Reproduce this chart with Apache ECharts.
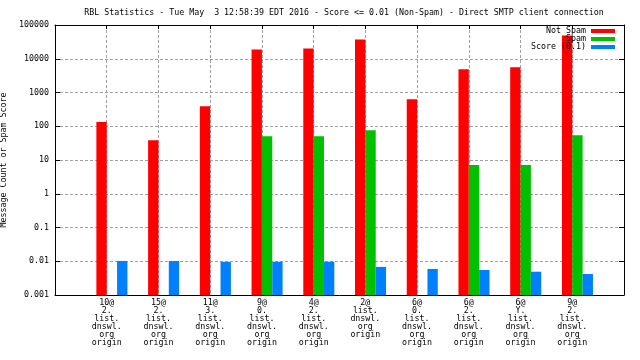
<!DOCTYPE html>
<html><head><meta charset="utf-8">
<script src="https://cdn.jsdelivr.net/npm/echarts@6/dist/echarts.min.js"></script>
<style>html,body{margin:0;padding:0;background:#fff}#c{width:640px;height:360px}</style>
</head><body><div id="c"></div>
<script>
const titleText = 'RBL Statistics - Tue May  3 12:58:39 EDT 2016 - Score <= 0.01 (Non-Spam) - Direct SMTP client connection';
const categories = [
  '10@\n2.\nlist.\ndnswl.\norg\norigin',
  '15@\n2.\nlist.\ndnswl.\norg\norigin',
  '11@\n3.\nlist.\ndnswl.\norg\norigin',
  '9@\n0.\nlist.\ndnswl.\norg\norigin',
  '4@\n2.\nlist.\ndnswl.\norg\norigin',
  '2@\nlist.\ndnswl.\norg\norigin',
  '6@\n0.\nlist.\ndnswl.\norg\norigin',
  '6@\n2.\nlist.\ndnswl.\norg\norigin',
  '6@\nY.\nlist.\ndnswl.\norg\norigin',
  '9@\n2.\nlist.\ndnswl.\norg\norigin'
];
const seriesNames = ['Not Spam', 'Spam', 'Score (0.1)'];
const notSpam = [133, 38.5, 394, 18900, 20200, 37200, 633, 4890, 5610, 48900];
const spam = [0, 0, 0, 50.6, 50.6, 76, 0, 7.1, 7.1, 54];
const score = [0.0102, 0.0102, 0.0096, 0.0097, 0.0097, 0.0068, 0.0059, 0.0055, 0.0049, 0.0042];
const yTickLabels = ['0.001', '0.01', '0.1', '1', '10', '100', '1000', '10000', '100000'];
const yMin = 0.001, yMax = 100000;

const FONT = 'DejaVu Sans Mono';
const FS = 8.3;
const axisCats = [''].concat(categories, ['']);

function makeSeries(name, values, color, leftOffset) {
  return {
    type: 'custom', name: name,
    itemStyle: { color: color },
    z: 3,
    data: values.map((v, i) => [i + 1, v]).filter(d => d[1] > 0),
    encode: { x: 0, y: 1 },
    renderItem: function (params, api) {
      const idx = api.value(0), v = api.value(1);
      const p = api.coord([idx, v]);
      const p2 = api.coord([idx + 1, v]);
      const base = api.coord([idx, yMin]);
      const unit = p2[0] - p[0];
      return {
        type: 'rect',
        shape: { x: p[0] + leftOffset * unit, y: p[1], width: 0.2 * unit, height: base[1] - p[1] },
        style: { fill: color }
      };
    }
  };
}

const chart = echarts.init(document.getElementById('c'), null, { renderer: 'canvas' });
const txt = { fontFamily: FONT, fontSize: FS, color: '#000' };
chart.setOption({
  animation: false,
  backgroundColor: '#fff',
  title: {
    text: titleText, left: 339, top: 4, textAlign: 'center',
    textStyle: Object.assign({}, txt, { fontWeight: 'normal' })
  },
  legend: {
    data: seriesNames, orient: 'vertical', right: 25, top: 27, align: 'right',
    itemWidth: 24, itemHeight: 4, itemGap: 0, icon: 'rect', padding: 0,
    textStyle: Object.assign({}, txt, { lineHeight: 7.5 })
  },
  grid: { left: 55, right: 16, top: 25, bottom: 65, containLabel: false, outerBoundsMode: 'none' },
  xAxis: [{
    type: 'category', data: axisCats, boundaryGap: false, position: 'bottom',
    axisLine: { lineStyle: { color: '#000', width: 1 } },
    axisTick: { show: false },
    axisLabel: Object.assign({}, txt, { interval: 0, margin: 4, lineHeight: 7.9 }),
    splitLine: { show: true, lineStyle: { color: '#a0a0a0', type: [3, 2], width: 1 } }
  }, {
    type: 'category', data: axisCats, boundaryGap: false, position: 'top',
    axisLine: { lineStyle: { color: '#000', width: 1 } },
    axisTick: { show: true, inside: true, length: 4, interval: 0, lineStyle: { color: '#000' } },
    axisLabel: { show: false }, splitLine: { show: false }
  }],
  yAxis: [{
    type: 'log', logBase: 10, min: yMin, max: yMax, splitNumber: 8,
    name: 'Message Count or Spam Score', nameLocation: 'middle', nameGap: 47, nameRotate: 90,
    nameTextStyle: txt,
    axisLine: { show: true, lineStyle: { color: '#000', width: 1 } },
    axisTick: { show: true, inside: true, length: 5, lineStyle: { color: '#000' } },
    axisLabel: Object.assign({}, txt, {
      margin: 6,
      formatter: v => yTickLabels[Math.round(Math.log10(v)) + 3]
    }),
    splitLine: { show: true, lineStyle: { color: '#a0a0a0', type: [3, 2], width: 1 } }
  }, {
    type: 'log', logBase: 10, min: yMin, max: yMax, splitNumber: 8, position: 'right',
    axisLine: { show: true, lineStyle: { color: '#000', width: 1 } },
    axisTick: { show: true, inside: true, length: 5, lineStyle: { color: '#000' } },
    axisLabel: { show: false }, splitLine: { show: false }
  }],
  series: [
    makeSeries(seriesNames[0], notSpam, '#ff0000', -0.2),
    makeSeries(seriesNames[1], spam, '#00c000', 0),
    makeSeries(seriesNames[2], score, '#0080ff', 0.2)
  ]
});
</script></body></html>
